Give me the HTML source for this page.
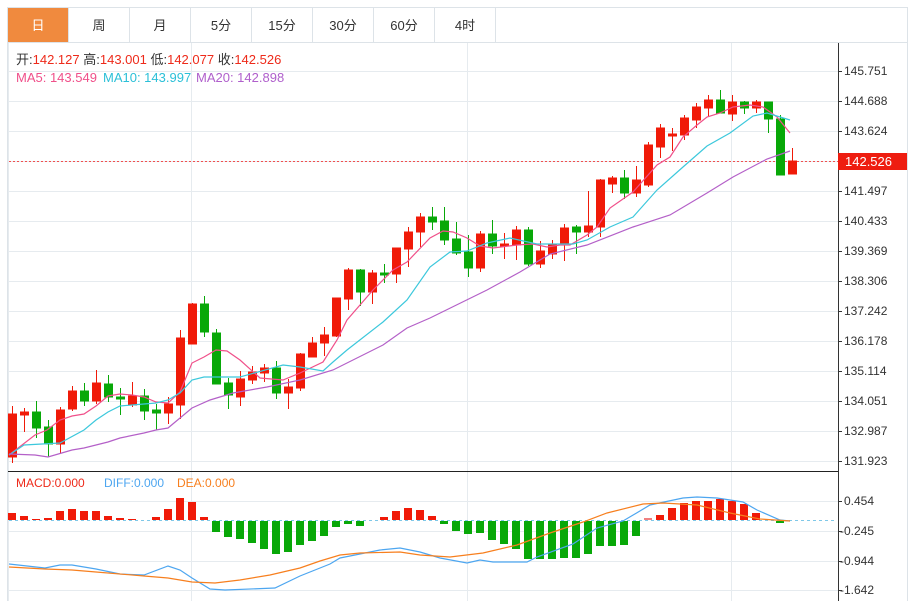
<!DOCTYPE html>
<html><head><meta charset="utf-8"><style>
body{margin:0;background:#fff;width:917px;height:601px;overflow:hidden;font-family:"Liberation Sans","Noto Sans CJK SC",sans-serif}
</style></head><body>
<svg width="917" height="601" xmlns="http://www.w3.org/2000/svg" style="position:absolute;left:0;top:0" font-family="Liberation Sans, Noto Sans CJK SC, sans-serif">
<rect x="0" y="0" width="917" height="601" fill="#fff"/>
<rect x="7.5" y="7.5" width="900" height="600" fill="none" stroke="#dde3e8"/>
<line x1="7" y1="42.5" x2="908" y2="42.5" stroke="#dde3e8"/>
<rect x="8" y="8" width="60" height="34" fill="#f08a3e"/>
<g stroke="#dde3e8"><line x1="68.5" y1="8" x2="68.5" y2="42"/><line x1="129.5" y1="8" x2="129.5" y2="42"/><line x1="190.5" y1="8" x2="190.5" y2="42"/><line x1="251.5" y1="8" x2="251.5" y2="42"/><line x1="312.5" y1="8" x2="312.5" y2="42"/><line x1="373.5" y1="8" x2="373.5" y2="42"/><line x1="434.5" y1="8" x2="434.5" y2="42"/><line x1="495.5" y1="8" x2="495.5" y2="42"/></g>
<g font-size="13" text-anchor="middle" fill="#333"><text x="38" y="30" fill="#fff">日</text><text x="99" y="30">周</text><text x="160" y="30">月</text><text x="221" y="30">5分</text><text x="282" y="30">15分</text><text x="343" y="30">30分</text><text x="404" y="30">60分</text><text x="465" y="30">4时</text></g>
<g stroke="#e6ebef" stroke-width="1">
<line x1="9" y1="71.5" x2="838" y2="71.5"/><line x1="9" y1="101.5" x2="838" y2="101.5"/><line x1="9" y1="131.5" x2="838" y2="131.5"/><line x1="9" y1="161.5" x2="838" y2="161.5"/><line x1="9" y1="191.5" x2="838" y2="191.5"/><line x1="9" y1="221.5" x2="838" y2="221.5"/><line x1="9" y1="251.5" x2="838" y2="251.5"/><line x1="9" y1="281.5" x2="838" y2="281.5"/><line x1="9" y1="311.5" x2="838" y2="311.5"/><line x1="9" y1="341.5" x2="838" y2="341.5"/><line x1="9" y1="371.5" x2="838" y2="371.5"/><line x1="9" y1="401.5" x2="838" y2="401.5"/><line x1="9" y1="431.5" x2="838" y2="431.5"/><line x1="9" y1="461.5" x2="838" y2="461.5"/>
<line x1="9" y1="501.5" x2="838" y2="501.5"/><line x1="9" y1="531.5" x2="838" y2="531.5"/><line x1="9" y1="561.5" x2="838" y2="561.5"/><line x1="9" y1="590.5" x2="838" y2="590.5"/>
<line x1="191.5" y1="43" x2="191.5" y2="601"/><line x1="467.5" y1="43" x2="467.5" y2="601"/><line x1="731.5" y1="43" x2="731.5" y2="601"/>
<line x1="8.5" y1="43" x2="8.5" y2="601"/>
</g>
<line x1="838.5" y1="43" x2="838.5" y2="601" stroke="#333"/>
<line x1="8" y1="471.5" x2="838" y2="471.5" stroke="#222"/>
<g stroke="#333"><line x1="838" y1="71.5" x2="842" y2="71.5"/><line x1="838" y1="101.5" x2="842" y2="101.5"/><line x1="838" y1="131.5" x2="842" y2="131.5"/><line x1="838" y1="191.5" x2="842" y2="191.5"/><line x1="838" y1="221.5" x2="842" y2="221.5"/><line x1="838" y1="251.5" x2="842" y2="251.5"/><line x1="838" y1="281.5" x2="842" y2="281.5"/><line x1="838" y1="311.5" x2="842" y2="311.5"/><line x1="838" y1="341.5" x2="842" y2="341.5"/><line x1="838" y1="371.5" x2="842" y2="371.5"/><line x1="838" y1="401.5" x2="842" y2="401.5"/><line x1="838" y1="431.5" x2="842" y2="431.5"/><line x1="838" y1="461.5" x2="842" y2="461.5"/><line x1="838" y1="501.5" x2="842" y2="501.5"/><line x1="838" y1="531.5" x2="842" y2="531.5"/><line x1="838" y1="561.5" x2="842" y2="561.5"/><line x1="838" y1="590.5" x2="842" y2="590.5"/></g>
<g font-size="12" fill="#333">
<text x="844" y="75">145.751</text><text x="844" y="105">144.688</text><text x="844" y="135">143.624</text><text x="844" y="195">141.497</text><text x="844" y="225">140.433</text><text x="844" y="255">139.369</text><text x="844" y="285">138.306</text><text x="844" y="315">137.242</text><text x="844" y="345">136.178</text><text x="844" y="375">135.114</text><text x="844" y="405">134.051</text><text x="844" y="435">132.987</text><text x="844" y="465">131.923</text>
<text x="844" y="505">0.454</text><text x="840" y="535">-0.245</text><text x="840" y="565">-0.944</text><text x="840" y="594">-1.642</text>
</g>
<line x1="9" y1="161.5" x2="838" y2="161.5" stroke="#f05050" stroke-dasharray="2,2"/>
<rect x="838" y="153" width="69" height="17" fill="#ee1d10"/>
<text x="845" y="166" font-size="13" fill="#fff">142.526</text>
<g font-size="13"><text x="16" y="64" fill="#333">开:<tspan fill="#ee2a1a">142.127</tspan>  高:<tspan fill="#ee2a1a">143.001</tspan>  低:<tspan fill="#ee2a1a">142.077</tspan>  收:<tspan fill="#ee2a1a">142.526</tspan></text>
<text x="16" y="82" fill="#f0508a">MA5: 143.549</text><text x="103" y="82" fill="#2cc0d8">MA10: 143.997</text><text x="196" y="82" fill="#b060cc">MA20: 142.898</text>
<text x="16" y="487" font-size="12" fill="#ee2a1a">MACD:0.000</text><text x="104" y="487" font-size="12" fill="#4da6f0">DIFF:0.000</text><text x="177" y="487" font-size="12" fill="#f77f1e">DEA:0.000</text></g>
<g fill="#f01a08" stroke="#f01a08">
<line x1="12.5" y1="406" x2="12.5" y2="463"/><rect x="8.5" y="414" width="8" height="43"/>
<line x1="24.5" y1="408" x2="24.5" y2="432"/><rect x="20.5" y="412" width="8" height="3"/>
<line x1="60.5" y1="407" x2="60.5" y2="454"/><rect x="56.5" y="410" width="8" height="34"/>
<line x1="72.5" y1="386" x2="72.5" y2="411"/><rect x="68.5" y="391" width="8" height="18"/>
<line x1="96.5" y1="370" x2="96.5" y2="404"/><rect x="92.5" y="383" width="8" height="18"/>
<line x1="132.5" y1="382" x2="132.5" y2="407"/><rect x="128.5" y="396" width="8" height="9"/>
<line x1="168.5" y1="397" x2="168.5" y2="424"/><rect x="164.5" y="404" width="8" height="9"/>
<line x1="180.5" y1="330" x2="180.5" y2="419"/><rect x="176.5" y="338" width="8" height="67"/>
<line x1="192.5" y1="303" x2="192.5" y2="344"/><rect x="188.5" y="304" width="8" height="40"/>
<line x1="240.5" y1="371" x2="240.5" y2="406"/><rect x="236.5" y="379" width="8" height="18"/>
<line x1="252.5" y1="366" x2="252.5" y2="384"/><rect x="248.5" y="372" width="8" height="8"/>
<line x1="264.5" y1="364" x2="264.5" y2="382"/><rect x="260.5" y="368" width="8" height="5"/>
<line x1="288.5" y1="379" x2="288.5" y2="409"/><rect x="284.5" y="387" width="8" height="6"/>
<line x1="300.5" y1="353" x2="300.5" y2="391"/><rect x="296.5" y="354" width="8" height="34"/>
<line x1="312.5" y1="337" x2="312.5" y2="357"/><rect x="308.5" y="343" width="8" height="14"/>
<line x1="324.5" y1="327" x2="324.5" y2="356"/><rect x="320.5" y="335" width="8" height="8"/>
<line x1="336.5" y1="298" x2="336.5" y2="337"/><rect x="332.5" y="298" width="8" height="38"/>
<line x1="348.5" y1="268" x2="348.5" y2="310"/><rect x="344.5" y="270" width="8" height="29"/>
<line x1="372.5" y1="270" x2="372.5" y2="304"/><rect x="368.5" y="273" width="8" height="19"/>
<line x1="396.5" y1="248" x2="396.5" y2="283"/><rect x="392.5" y="248" width="8" height="26"/>
<line x1="408.5" y1="227" x2="408.5" y2="267"/><rect x="404.5" y="232" width="8" height="17"/>
<line x1="420.5" y1="213" x2="420.5" y2="247"/><rect x="416.5" y="217" width="8" height="15"/>
<line x1="480.5" y1="231" x2="480.5" y2="272"/><rect x="476.5" y="234" width="8" height="34"/>
<line x1="504.5" y1="233" x2="504.5" y2="259"/><rect x="500.5" y="244" width="8" height="2"/>
<line x1="516.5" y1="226" x2="516.5" y2="260"/><rect x="512.5" y="230" width="8" height="15"/>
<line x1="540.5" y1="241" x2="540.5" y2="268"/><rect x="536.5" y="251" width="8" height="13"/>
<line x1="552.5" y1="240" x2="552.5" y2="259"/><rect x="548.5" y="245" width="8" height="9"/>
<line x1="564.5" y1="224" x2="564.5" y2="261"/><rect x="560.5" y="228" width="8" height="17"/>
<line x1="588.5" y1="191" x2="588.5" y2="237"/><rect x="584.5" y="226" width="8" height="6"/>
<line x1="600.5" y1="179" x2="600.5" y2="237"/><rect x="596.5" y="180" width="8" height="47"/>
<line x1="612.5" y1="176" x2="612.5" y2="193"/><rect x="608.5" y="178" width="8" height="6"/>
<line x1="636.5" y1="166" x2="636.5" y2="197"/><rect x="632.5" y="180" width="8" height="13"/>
<line x1="648.5" y1="142" x2="648.5" y2="187"/><rect x="644.5" y="145" width="8" height="40"/>
<line x1="660.5" y1="124" x2="660.5" y2="158"/><rect x="656.5" y="128" width="8" height="19"/>
<line x1="672.5" y1="128" x2="672.5" y2="151"/><rect x="668.5" y="134" width="8" height="2"/>
<line x1="684.5" y1="115" x2="684.5" y2="140"/><rect x="680.5" y="118" width="8" height="17"/>
<line x1="696.5" y1="103" x2="696.5" y2="128"/><rect x="692.5" y="107" width="8" height="13"/>
<line x1="708.5" y1="95" x2="708.5" y2="117"/><rect x="704.5" y="100" width="8" height="8"/>
<line x1="732.5" y1="95" x2="732.5" y2="121"/><rect x="728.5" y="102" width="8" height="12"/>
<line x1="756.5" y1="100" x2="756.5" y2="113"/><rect x="752.5" y="102" width="8" height="6"/>
<line x1="792.5" y1="148" x2="792.5" y2="174"/><rect x="788.5" y="161" width="8" height="13"/>
</g>
<g fill="#08a808" stroke="#08a808">
<line x1="36.5" y1="401" x2="36.5" y2="438"/><rect x="32.5" y="412" width="8" height="16"/>
<line x1="48.5" y1="420" x2="48.5" y2="457"/><rect x="44.5" y="427" width="8" height="17"/>
<line x1="84.5" y1="383" x2="84.5" y2="406"/><rect x="80.5" y="391" width="8" height="10"/>
<line x1="108.5" y1="375" x2="108.5" y2="402"/><rect x="104.5" y="384" width="8" height="13"/>
<line x1="120.5" y1="388" x2="120.5" y2="415"/><rect x="116.5" y="397" width="8" height="2"/>
<line x1="144.5" y1="389" x2="144.5" y2="420"/><rect x="140.5" y="396" width="8" height="15"/>
<line x1="156.5" y1="404" x2="156.5" y2="430"/><rect x="152.5" y="410" width="8" height="3"/>
<line x1="204.5" y1="296" x2="204.5" y2="337"/><rect x="200.5" y="304" width="8" height="28"/>
<line x1="216.5" y1="329" x2="216.5" y2="384"/><rect x="212.5" y="333" width="8" height="51"/>
<line x1="228.5" y1="378" x2="228.5" y2="409"/><rect x="224.5" y="383" width="8" height="12"/>
<line x1="276.5" y1="361" x2="276.5" y2="399"/><rect x="272.5" y="368" width="8" height="25"/>
<line x1="360.5" y1="269" x2="360.5" y2="306"/><rect x="356.5" y="270" width="8" height="22"/>
<line x1="384.5" y1="264" x2="384.5" y2="283"/><rect x="380.5" y="273" width="8" height="2"/>
<line x1="432.5" y1="207" x2="432.5" y2="230"/><rect x="428.5" y="217" width="8" height="5"/>
<line x1="444.5" y1="207" x2="444.5" y2="245"/><rect x="440.5" y="221" width="8" height="19"/>
<line x1="456.5" y1="222" x2="456.5" y2="255"/><rect x="452.5" y="239" width="8" height="14"/>
<line x1="468.5" y1="235" x2="468.5" y2="277"/><rect x="464.5" y="252" width="8" height="16"/>
<line x1="492.5" y1="220" x2="492.5" y2="254"/><rect x="488.5" y="234" width="8" height="12"/>
<line x1="528.5" y1="227" x2="528.5" y2="266"/><rect x="524.5" y="230" width="8" height="34"/>
<line x1="576.5" y1="225" x2="576.5" y2="254"/><rect x="572.5" y="227" width="8" height="5"/>
<line x1="624.5" y1="170" x2="624.5" y2="199"/><rect x="620.5" y="178" width="8" height="15"/>
<line x1="720.5" y1="90" x2="720.5" y2="113"/><rect x="716.5" y="100" width="8" height="13"/>
<line x1="744.5" y1="101" x2="744.5" y2="114"/><rect x="740.5" y="102" width="8" height="6"/>
<line x1="768.5" y1="102" x2="768.5" y2="133"/><rect x="764.5" y="102" width="8" height="17"/>
<line x1="780.5" y1="115" x2="780.5" y2="175"/><rect x="776.5" y="119" width="8" height="56"/>
</g>
<g fill="none" stroke-width="1.2">
<polyline stroke="#f0508a" points="9,455 35,435 47,430 60,420 72,416 84,414 96,406 108,396 120,394 132,395 144,397 156,402 168,403 180,392 192,363 204,357 216,350 227,351 240,360 260,378 283,380 300,373 323,362 337,340 347,320 373,290 393,270 407,262 430,238 443,231 453,232 467,238 480,246 493,248 517,245 533,244 547,247 560,245 570,245 587,235 597,227 610,208 633,192 657,165 670,157 683,137 697,125 707,117 720,113 733,107 750,105 763,107 777,117 790,133"/>
<polyline stroke="#3cc8dc" points="9,455 24,445 60,443 84,430 96,420 108,412 120,406 132,405 156,403 168,400 180,393 192,380 204,377 240,377 283,365 300,367 323,371 333,362 347,350 383,322 407,300 430,267 450,252 467,251 487,243 510,238 537,244 573,244 587,240 610,227 633,217 657,190 683,167 707,146 730,133 753,116 767,113 790,120"/>
<polyline stroke="#b460c8" points="9,454 35,455 48,457 72,450 84,448 108,442 120,438 144,433 156,430 168,428 180,418 192,408 210,400 233,393 267,387 300,380 333,370 383,345 407,328 430,318 487,290 520,272 550,254 587,245 633,227 670,215 707,193 733,177 767,159 790,151"/>
</g>
<line x1="9" y1="520.5" x2="836" y2="520.5" stroke="#7fc8e8" stroke-dasharray="3,3"/>
<g fill="#f01a08">
<rect x="8" y="513" width="8" height="7"/><rect x="20" y="516" width="8" height="4"/><rect x="32" y="519" width="8" height="1"/><rect x="44" y="518" width="8" height="2"/><rect x="56" y="511" width="8" height="9"/><rect x="68" y="509" width="8" height="11"/><rect x="80" y="511" width="8" height="9"/><rect x="92" y="511" width="8" height="9"/><rect x="104" y="516" width="8" height="4"/><rect x="116" y="518" width="8" height="2"/><rect x="128" y="519" width="8" height="1"/><rect x="152" y="517" width="8" height="3"/><rect x="164" y="509" width="8" height="11"/><rect x="176" y="498" width="8" height="22"/><rect x="188" y="502" width="8" height="18"/><rect x="200" y="517" width="8" height="3"/>
<rect x="380" y="517" width="8" height="3"/><rect x="392" y="511" width="8" height="9"/><rect x="404" y="508" width="8" height="12"/><rect x="416" y="510" width="8" height="10"/><rect x="428" y="516" width="8" height="4"/>
<rect x="656" y="515" width="8" height="5"/><rect x="668" y="508" width="8" height="12"/><rect x="680" y="503" width="8" height="17"/><rect x="692" y="501" width="8" height="19"/><rect x="704" y="501" width="8" height="19"/><rect x="716" y="499" width="8" height="21"/><rect x="728" y="501" width="8" height="19"/><rect x="740" y="504" width="8" height="16"/><rect x="752" y="513" width="8" height="7"/>
</g>
<rect x="644" y="518" width="8" height="2" fill="#f08080"/>
<g fill="#08a808">
<rect x="212" y="521" width="8" height="11"/><rect x="224" y="521" width="8" height="16"/><rect x="236" y="521" width="8" height="18"/><rect x="248" y="521" width="8" height="22"/><rect x="260" y="521" width="8" height="28"/><rect x="272" y="521" width="8" height="33"/><rect x="284" y="521" width="8" height="31"/><rect x="296" y="521" width="8" height="24"/><rect x="308" y="521" width="8" height="20"/><rect x="320" y="521" width="8" height="15"/><rect x="332" y="521" width="8" height="6"/><rect x="344" y="521" width="8" height="3"/><rect x="356" y="521" width="8" height="5"/>
<rect x="440" y="521" width="8" height="3"/><rect x="452" y="521" width="8" height="10"/><rect x="464" y="521" width="8" height="13"/><rect x="476" y="521" width="8" height="12"/><rect x="488" y="521" width="8" height="19"/><rect x="500" y="521" width="8" height="23"/><rect x="512" y="521" width="8" height="28"/><rect x="524" y="521" width="8" height="38"/><rect x="536" y="521" width="8" height="38"/><rect x="548" y="521" width="8" height="38"/><rect x="560" y="521" width="8" height="37"/><rect x="572" y="521" width="8" height="37"/><rect x="584" y="521" width="8" height="33"/><rect x="596" y="521" width="8" height="25"/><rect x="608" y="521" width="8" height="25"/><rect x="620" y="521" width="8" height="24"/><rect x="632" y="521" width="8" height="15"/>
<rect x="776" y="521" width="8" height="2"/>
</g>
<g fill="none" stroke-width="1.2">
<polyline stroke="#4da6f0" points="9,564 45,568 60,565 72,565 96,569 120,574 144,575 168,566 180,570 192,578 210,589 225,590 275,588 300,576 330,564 340,558 360,554 380,550 400,548 420,552 440,558 467,563 480,560 493,562 527,562 537,557 573,544 597,528 623,521 650,505 683,498 697,497 717,498 743,502 757,510 780,520 790,521"/>
<polyline stroke="#f77f1e" points="9,567 45,569 72,570 96,572 144,576 168,578 192,582 215,583 240,580 270,575 300,568 320,561 340,555 360,553 400,552 420,555 450,557 483,553 517,545 550,533 583,522 607,513 643,504 663,503 697,505 730,513 760,519 790,521"/>
</g>
</svg>
</body></html>
